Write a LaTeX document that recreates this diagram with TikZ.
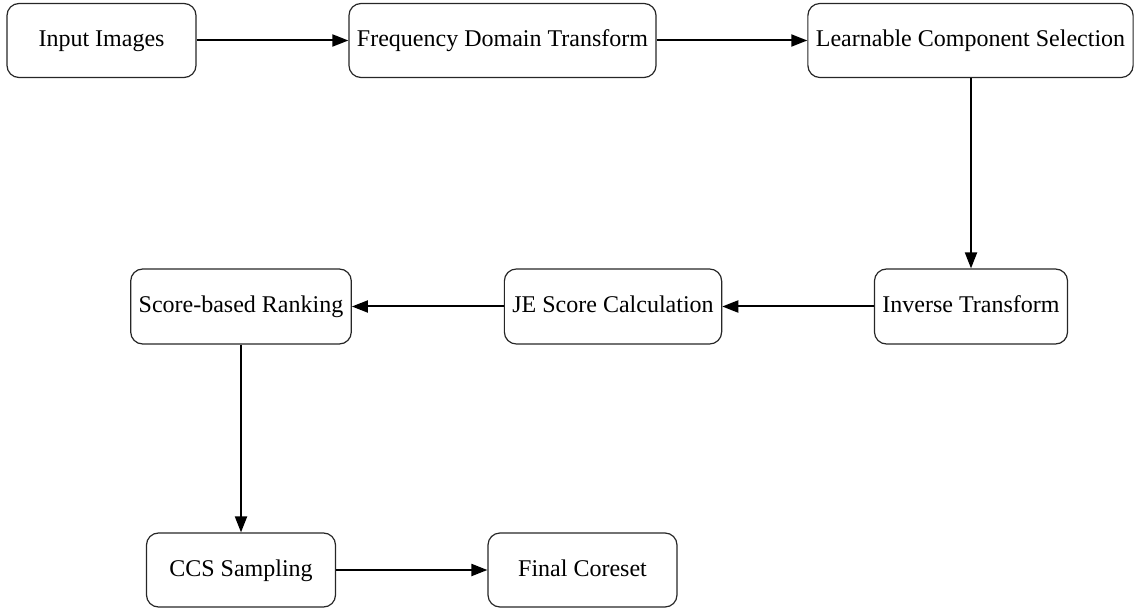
\documentclass[tikz,border=0pt]{standalone}
\usepackage{fontspec}
\setmainfont{Liberation Serif}
\usetikzlibrary{arrows.meta}
\begin{document}
\begin{tikzpicture}[x=1pt,y=-1pt,
  box/.style={draw=black!85, line width=1.2pt, rounded corners=12pt,
    minimum width=189pt, minimum height=74pt, inner xsep=8pt,
    text height=17pt, text depth=5pt,
    font=\fontsize{24}{28}\selectfont, text=black},
  arr/.style={line width=2pt, -{Triangle[length=16pt,width=12pt]}}]
\useasboundingbox (0,0) rectangle (1137,609);
\node[box] (in)  at (101.5,40.5) {Input Images};
\node[box] (fdt) at (502.5,40.5) {Frequency Domain Transform};
\node[box] (lcs) at (970.5,40.5) {Learnable Component Selection};
\node[box, minimum height=75pt] (inv) at (971,306.5) {Inverse Transform};
\node[box, minimum height=75pt] (je)  at (613,306.5) {JE Score Calculation};
\node[box, minimum height=75pt] (sbr) at (241,306.5) {Score-based Ranking};
\node[box] (ccs) at (241,570) {CCS Sampling};
\node[box] (fc)  at (582.5,570) {Final Coreset};
\draw[arr] (in) -- (fdt);
\draw[arr] (fdt) -- (lcs);
\draw[arr] (lcs.south -| inv.north) -- (inv.north);
\draw[arr] (inv) -- (je);
\draw[arr] (je) -- (sbr);
\draw[arr] (sbr) -- (ccs);
\draw[arr] (ccs) -- (fc);
\end{tikzpicture}
\end{document}
